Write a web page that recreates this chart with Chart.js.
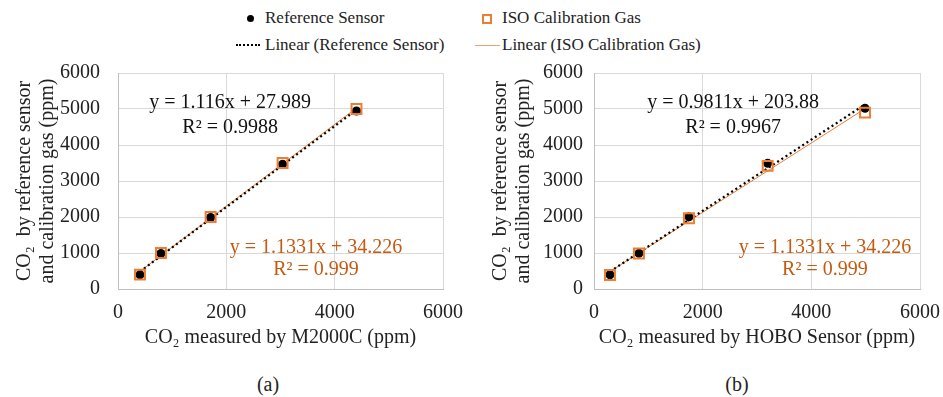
<!DOCTYPE html>
<html>
<head>
<meta charset="utf-8">
<script src="https://cdn.jsdelivr.net/npm/chart.js@4.4.1/dist/chart.umd.min.js"></script>
<style>
  body { margin: 0; background: #fff; }
  #page { position: relative; width: 943px; height: 397px; font-family: "Liberation Serif", "Times New Roman", serif; color: #222; }
  .lg { position: absolute; font-size: 17px; line-height: 20px; white-space: nowrap; }
  .cap { position: absolute; font-size: 20px; line-height: 24px; width: 60px; text-align: center; }
  canvas { position: absolute; }
</style>
</head>
<body>
<div id="page">
  <!-- legend -->
  <div style="position:absolute;left:247px;top:15px;width:7px;height:7px;border-radius:50%;background:#000"></div>
  <div class="lg" style="left:265px;top:8px">Reference Sensor</div>
  <div style="position:absolute;left:482px;top:14px;width:6px;height:6px;border:2px solid #ED7D31"></div>
  <div class="lg" style="left:502px;top:8px">ISO Calibration Gas</div>
  <div style="position:absolute;left:236px;top:44px;width:24px;height:0;border-top:2px dotted #000"></div>
  <div class="lg" style="left:265px;top:35px">Linear (Reference Sensor)</div>
  <div style="position:absolute;left:475px;top:45px;width:25px;height:1px;background:#F0A070"></div>
  <div class="lg" style="left:502px;top:35px">Linear (ISO Calibration Gas)</div>

  <canvas id="chartA" style="left:0;top:60px" width="470" height="290"></canvas>
  <canvas id="chartB" style="left:470px;top:60px" width="473" height="290"></canvas>

  <div class="cap" style="left:238px;top:372px">(a)</div>
  <div class="cap" style="left:707px;top:372px">(b)</div>
</div>
<script>
// (a) M2000C
const m2000X = [406, 793, 1710, 3039, 4403];
const m2000Ref = [395, 985, 1985, 3465, 4945];
const m2000Gas = [400, 1000, 2000, 3500, 5000];
// (b) HOBO
const hoboX = [294, 828, 1748, 3196, 4988];
const hoboRef = [395, 990, 2005, 3490, 5020];
const hoboGas = [390, 985, 1965, 3420, 4900];

const xTicks = [0, 2000, 4000, 6000];
const yTicks = [0, 1000, 2000, 3000, 4000, 5000, 6000];

const eqA = ['y = 1.116x + 27.989', 'R² = 0.9988', 'y = 1.1331x + 34.226', 'R² = 0.999'];
const eqB = ['y = 0.9811x + 203.88', 'R² = 0.9967', 'y = 1.1331x + 34.226', 'R² = 0.999'];

const BLACK = '#000000';
const ORANGE = '#ED7D31';
const ORANGE_TXT = '#C55A11';
const FONT = '"Liberation Serif", "Times New Roman", serif';

// least squares line over the data range
function trend(xs, ys) {
    const n = xs.length;
    const mx = xs.reduce((a, b) => a + b, 0) / n;
    const my = ys.reduce((a, b) => a + b, 0) / n;
    let sxy = 0, sxx = 0;
    for (let i = 0; i < n; i++) {
        sxy += (xs[i] - mx) * (ys[i] - my);
        sxx += (xs[i] - mx) * (xs[i] - mx);
    }
    const m = sxy / sxx, b = my - m * mx;
    const x0 = Math.min(...xs), x1 = Math.max(...xs);
    return [{x: x0, y: m * x0 + b}, {x: x1, y: m * x1 + b}];
}

const pts = (xs, ys) => xs.map((x, i) => ({x: x, y: ys[i]}));

// equation text, anchored in data units
const eqPlugin = {
    id: 'eqLabels',
    afterDatasetsDraw(chart, args, opts) {
        const ctx = chart.ctx;
        const {x, y} = chart.scales;
        ctx.save();
        ctx.font = '20px ' + FONT;
        ctx.textAlign = 'center';
        ctx.textBaseline = 'middle';
        (opts.items || []).forEach(it => {
            ctx.fillStyle = it.color;
            ctx.fillText(it.text, x.getPixelForValue(it.x), y.getPixelForValue(it.y));
        });
        ctx.restore();
    }
};

function makeChart({canvasId, xs, ref, gas, eq, xTitle, yAxisWidth, tickPad, titlePad, padRight, labelPos}) {
    const ctx = document.getElementById(canvasId).getContext('2d');
    return new Chart(ctx, {
        type: 'scatter',
        data: {
            datasets: [
                {
                    label: 'Reference Sensor',
                    data: pts(xs, ref),
                    pointStyle: 'circle',
                    pointRadius: 4.5,
                    backgroundColor: BLACK,
                    borderColor: BLACK,
                    borderWidth: 0,
                    order: 2
                },
                {
                    label: 'ISO Calibration Gas',
                    data: pts(xs, gas),
                    pointStyle: 'rect',
                    pointRadius: 7,
                    backgroundColor: 'rgba(0,0,0,0)',
                    borderColor: ORANGE,
                    borderWidth: 2,
                    order: 1
                },
                {
                    label: 'Linear (Reference Sensor)',
                    data: trend(xs, ref),
                    showLine: true,
                    pointRadius: 0,
                    borderColor: BLACK,
                    borderWidth: 2.25,
                    borderDash: [2, 3],
                    order: 3
                },
                {
                    label: 'Linear (ISO Calibration Gas)',
                    data: trend(xs, gas),
                    showLine: true,
                    pointRadius: 0,
                    borderColor: ORANGE,
                    borderWidth: 1,
                    order: 4
                }
            ]
        },
        options: {
            responsive: false,
            animation: false,
            layout: { padding: { top: 13, right: padRight, left: 0, bottom: 0 } },
            plugins: {
                legend: { display: false },
                tooltip: { enabled: false },
                eqLabels: {
                    items: [
                        {text: eq[0], color: '#111', x: labelPos[0], y: 5170},
                        {text: eq[1], color: '#111', x: labelPos[0], y: 4475},
                        {text: eq[2], color: ORANGE_TXT, x: labelPos[1], y: 1140},
                        {text: eq[3], color: ORANGE_TXT, x: labelPos[1], y: 530}
                    ]
                }
            },
            scales: {
                x: {
                    type: 'linear',
                    min: 0,
                    max: 6000,
                    afterBuildTicks: s => { s.ticks = xTicks.map(v => ({value: v})); },
                    afterFit: s => { s.height = 61; s.paddingLeft = 0; s.paddingRight = 0; },
                    grid: { color: '#D9D9D9', drawTicks: false },
                    border: { color: '#BFBFBF' },
                    ticks: {
                        padding: 12,
                        color: '#222',
                        font: { family: FONT, size: 20 },
                        callback: v => String(v)
                    },
                    title: {
                        display: true,
                        text: xTitle,
                        color: '#222',
                        padding: { top: 0, bottom: 1 },
                        font: { family: FONT, size: 20, lineHeight: 1.15 }
                    }
                },
                y: {
                    type: 'linear',
                    min: 0,
                    max: 6000,
                    afterBuildTicks: s => { s.ticks = yTicks.map(v => ({value: v})); },
                    afterFit: s => { s.width = yAxisWidth; s.paddingTop = 0; s.paddingBottom = 0; },
                    grid: { color: '#D9D9D9', drawTicks: false },
                    border: { color: '#BFBFBF' },
                    ticks: {
                        padding: tickPad,
                        color: '#222',
                        font: { family: FONT, size: 20 },
                        callback: v => String(v)
                    },
                    title: {
                        display: true,
                        text: ['CO\u2082  by reference sensor', 'and calibration gas (ppm)'],
                        color: '#222',
                        padding: { top: titlePad, bottom: 0 },
                        font: { family: FONT, size: 20, lineHeight: 1.15 }
                    }
                }
            }
        },
        plugins: [eqPlugin]
    });
}

makeChart({
    canvasId: 'chartA',
    xs: m2000X, ref: m2000Ref, gas: m2000Gas, eq: eqA,
    xTitle: 'CO\u2082 measured by M2000C (ppm)',
    yAxisWidth: 118, tickPad: 18, titlePad: 13, padRight: 27,
    labelPos: [2070, 3655]
});
makeChart({
    canvasId: 'chartB',
    xs: hoboX, ref: hoboRef, gas: hoboGas, eq: eqB,
    xTitle: 'CO\u2082 measured by HOBO Sensor (ppm)',
    yAxisWidth: 124, tickPad: 11, titlePad: 19, padRight: 23,
    labelPos: [2560, 4250]
});
</script>
</body>
</html>
